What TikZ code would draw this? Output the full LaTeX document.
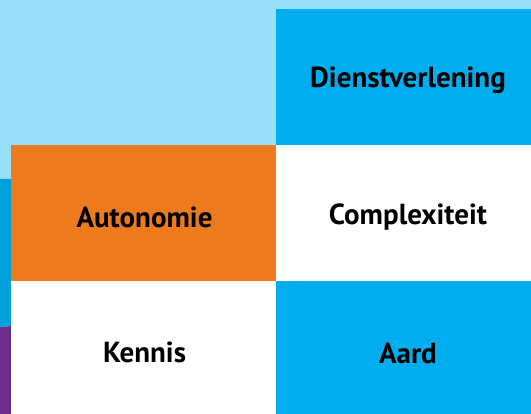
\documentclass[tikz,border=0pt]{standalone}
\usepackage{fontspec}
\setmainfont{PT Sans}
\definecolor{lightblue}{HTML}{97DEF8}
\definecolor{cyanblue}{HTML}{00AEEF}
\definecolor{stripblue}{HTML}{00A0DC}
\definecolor{purplec}{HTML}{6C2D8F}
\definecolor{orangec}{HTML}{EE7A1E}
\begin{document}
\begin{tikzpicture}[x=1pt,y=-1pt,
  cell/.style={rectangle,inner sep=0pt,outer sep=0pt,minimum height=136pt},
  lcell/.style={cell,minimum width=265pt},
  rcell/.style={cell,minimum width=255pt},
  lbl/.style={font=\bfseries\fontsize{29}{34}\selectfont,text=black}]
\useasboundingbox (0,0) rectangle (531,414);
% background
\fill[lightblue] (0,0) rectangle (531,179);
\fill[stripblue] (0,179) -- (11,179) -- (11,326) -- (0,327.3) -- cycle;
\fill[purplec] (0,327.3) -- (11,326) -- (11,414) -- (0,414) -- cycle;
% cells
\node[rcell,fill=cyanblue,anchor=north west] (dienst) at (276,9) {};
\node[lcell,fill=orangec,anchor=north west] (auto) at (11,145) {};
\node[rcell,fill=white,anchor=north west] (comp) at (276,145) {};
\node[lcell,fill=white,anchor=north west,minimum height=133pt] (kennis) at (11,281) {};
\node[rcell,fill=cyanblue,anchor=north west,minimum height=133pt] (aard) at (276,281) {};
% labels
\node[lbl] (t1) at (408,80) {Dienstverlening};
\node[lbl] (t2) at (144.5,217) {Autonomie};
\node[lbl] (t3) at (408,217) {Complexiteit};
\node[lbl] (t4) at (144.5,352) {Kennis};
\node[lbl] (t5) at (408,353) {Aard};
\end{tikzpicture}
\end{document}
